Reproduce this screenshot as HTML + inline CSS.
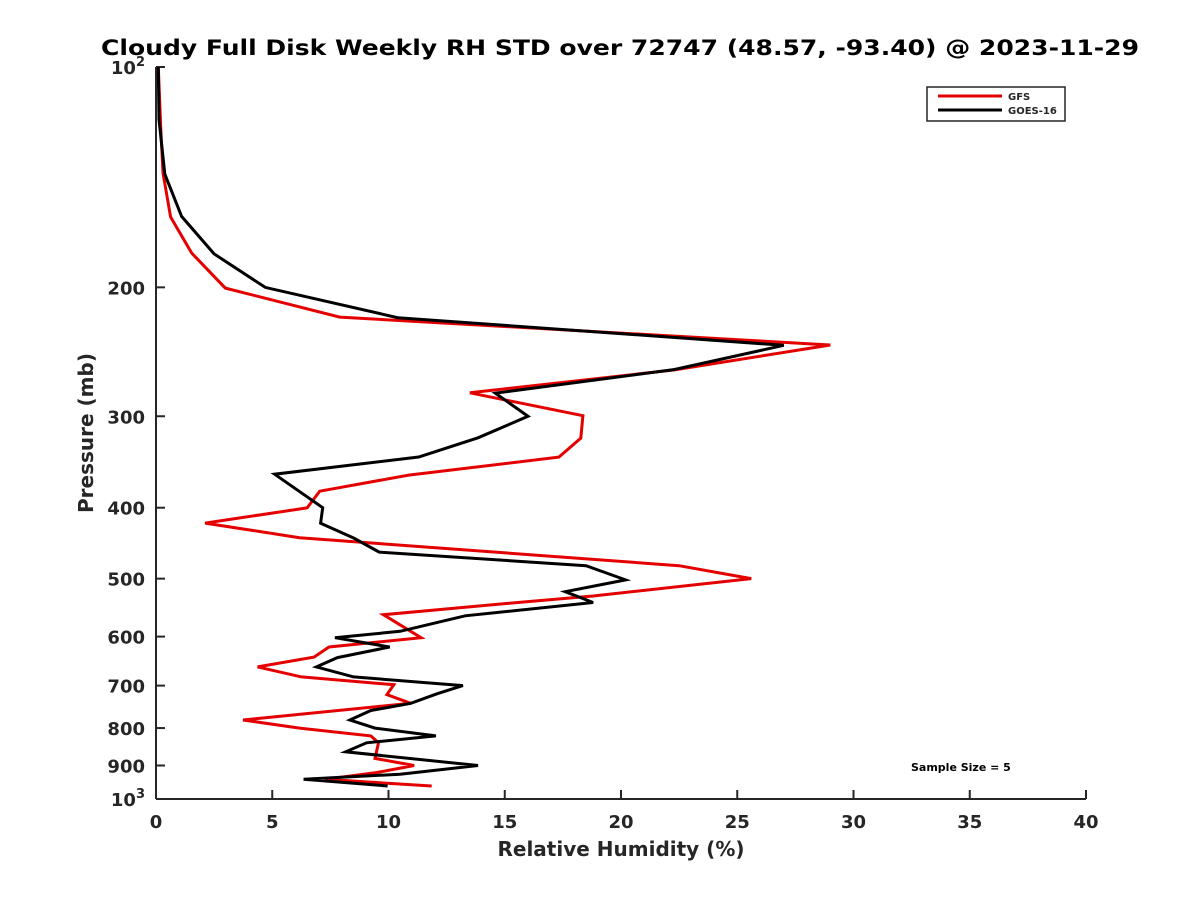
<!DOCTYPE html>
<html><head><meta charset="utf-8"><style>
body{margin:0;background:#fff}
text{font-family:"DejaVu Sans","Liberation Sans",sans-serif;font-weight:bold;fill:#262626}
</style></head><body>
<svg id="chart" width="1200" height="900" xmlns="http://www.w3.org/2000/svg">
<rect width="1200" height="900" fill="#fff"/>
<text x="620" y="55" text-anchor="middle" font-size="21" textLength="1038" lengthAdjust="spacingAndGlyphs" style="fill:#000">Cloudy Full Disk Weekly RH STD over 72747 (48.57, -93.40) @ 2023-11-29</text>
<g id="axes"></g>
<g id="series"></g>
<text x="621" y="856" text-anchor="middle" font-size="20">Relative Humidity (%)</text>
<text transform="translate(93,433) rotate(-90)" text-anchor="middle" font-size="20">Pressure (mb)</text>
<g>
<rect x="927" y="87" width="138" height="34" fill="#fff" stroke="#262626" stroke-width="1.5"/>
<line x1="938" y1="96" x2="1002" y2="96" stroke="#e50000" stroke-width="3"/>
<text x="1008" y="100" font-size="10">GFS</text>
<line x1="938" y1="110" x2="1002" y2="110" stroke="#000" stroke-width="3"/>
<text x="1008" y="114" font-size="10">GOES-16</text>
</g>
<text x="911" y="771" font-size="11" style="fill:#000">Sample Size = 5</text>
</svg>
<script>
const xTicks=[0,5,10,15,20,25,30,35,40];
const yTicks=[100,200,300,400,500,600,700,800,900,1000];
const yTickLabels=["","200","300","400","500","600","700","800","900",""];
const gfsP=[100,120.8,139.6,160.3,179.6,200.5,219.6,239.8,259.3,278.7,299.5,321.3,341.1,361,379.8,400.3,419.9,439.6,480,500,528,539,560,602,620,640,660,681,698,720,740,780,800,820,838,880,900,920,940,960];
const gfsRH=[0.1,0.2,0.3,0.63,1.54,2.98,7.9,29.0,22.3,13.5,18.36,18.27,17.33,10.87,7.04,6.5,2.11,6.17,22.5,25.6,18.8,15.56,9.78,11.4,7.44,6.8,4.37,6.26,10.23,9.93,10.96,3.74,6.17,9.24,9.57,9.42,11.1,9.5,7.26,11.86];
const goesP=[100,118,140,160,180,200,220,240,259,279,300,321,341,360,400,420,440,460,480,502,521,539,562,590,602,620,641,660,681,700,718,740,757,780,800,820,838,862,900,925,940,960];
const goesRH=[0.1,0.13,0.38,1.1,2.5,4.7,10.4,27.0,22.3,14.6,16.0,13.85,11.3,5.1,7.17,7.08,8.5,9.6,18.5,20.2,17.6,18.8,13.3,10.5,7.7,10.05,7.8,6.9,8.5,13.2,12.1,10.96,9.24,8.34,9.42,12.04,9.06,8.16,13.85,10.5,6.35,9.96];
const NS="http://www.w3.org/2000/svg";
const X0=156,X1=1086,Y0=67,Y1=799;
const xs=v=>X0+(v-0)/(40-0)*(X1-X0);
const ys=p=>Y0+(Math.log10(p)-2)*(Y1-Y0);
function mk(tag,attrs,parent){const e=document.createElementNS(NS,tag);for(const k in attrs)e.setAttribute(k,attrs[k]);parent.appendChild(e);return e;}
const ax=document.getElementById('axes');
const xl=mk('line',{x1:X0,y1:Y1,x2:X1,y2:Y1,stroke:'#262626','stroke-width':2},ax);


const yl=mk('line',{x1:X0,y1:Y0,x2:X0,y2:Y1,stroke:'#262626','stroke-width':2},ax);


xTicks.forEach(v=>{
  mk('line',{x1:xs(v),y1:Y1,x2:xs(v),y2:Y1-9,stroke:'#262626','stroke-width':2},ax);
  const t=mk('text',{x:xs(v),y:Y1+29,'text-anchor':'middle','font-size':18},ax);
  t.textContent=v;
  
  
});
yTicks.forEach((p,i)=>{
  mk('line',{x1:X0,y1:ys(p),x2:X0+9,y2:ys(p),stroke:'#262626','stroke-width':2},ax);
  if(yTickLabels[i]){
    const t=mk('text',{x:X0-11,y:ys(p)+7,'text-anchor':'end','font-size':18},ax);
    t.textContent=yTickLabels[i];
    
    
  }
});
[[100,'2'],[1000,'3']].forEach(([p,e])=>{
  const t=mk('text',{x:X0-11,y:ys(p)+7,'text-anchor':'end','font-size':18},ax);
  t.innerHTML='10<tspan dy="-8" font-size="13">'+e+'</tspan>';
  
  
});
const sg=document.getElementById('series');
function line(P,V,color,name){
  const pts=P.map((p,i)=>xs(V[i]).toFixed(1)+','+ys(p).toFixed(1)).join(' ');
  const pl=mk('polyline',{points:pts,fill:'none',stroke:color,'stroke-width':3,'stroke-linejoin':'miter'},sg);
  
  
}
line(gfsP,gfsRH,'#e50000','gfs-line');
line(goesP,goesRH,'#000','goes16-line');
</script>
</body></html>
